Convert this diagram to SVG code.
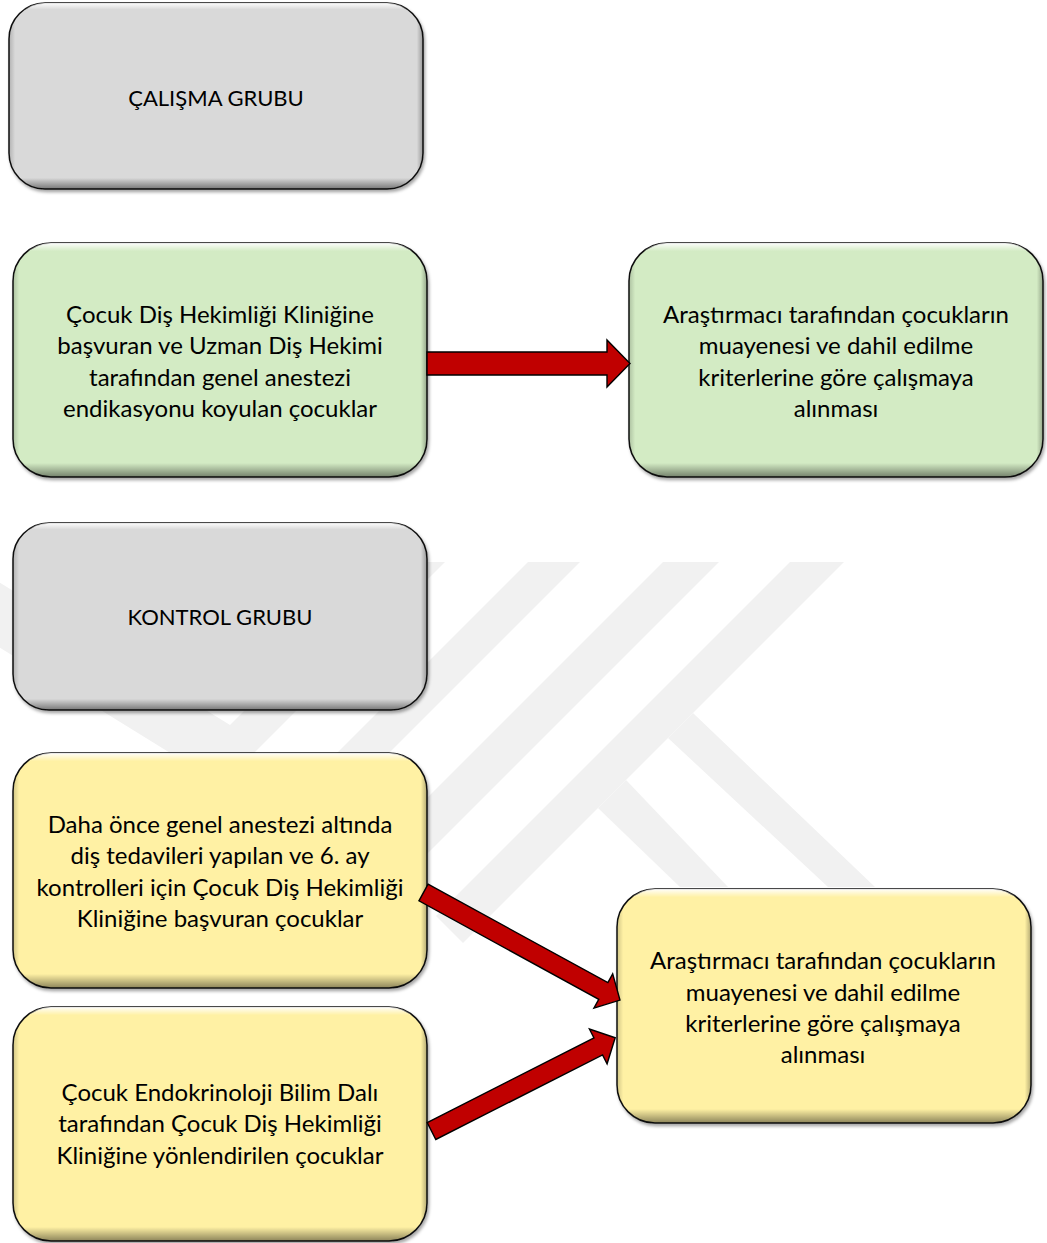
<svg xmlns="http://www.w3.org/2000/svg" width="1047" height="1243" viewBox="0 0 1047 1243">
  <defs>
    <filter id="shadow" x="-5%" y="-5%" width="110%" height="115%">
      <feDropShadow dx="1.5" dy="2.5" stdDeviation="1.8" flood-color="#000" flood-opacity="0.35"/>
    </filter>
    <linearGradient id="bevelV" x1="0" y1="0" x2="0" y2="1">
      <stop offset="0" stop-color="#fff" stop-opacity="0.95"/>
      <stop offset="0.035" stop-color="#fff" stop-opacity="0"/>
      <stop offset="0.94" stop-color="#000" stop-opacity="0"/>
      <stop offset="1" stop-color="#000" stop-opacity="0.45"/>
    </linearGradient>
    <linearGradient id="bevelH" x1="0" y1="0" x2="1" y2="0">
      <stop offset="0" stop-color="#000" stop-opacity="0.18"/>
      <stop offset="0.015" stop-color="#000" stop-opacity="0"/>
      <stop offset="0.985" stop-color="#000" stop-opacity="0"/>
      <stop offset="1" stop-color="#000" stop-opacity="0.3"/>
    </linearGradient>
  </defs>
  <style>
    .box { stroke: #111; stroke-width: 1.5; filter: url(#shadow); }
    .gray { fill: #d9d9d9; }
    .green { fill: #d3ebc4; }
    .yellow { fill: #fff1a4; }
    .bv { fill: url(#bevelV); stroke: none; }
    .bh { fill: url(#bevelH); stroke: none; }
    .label { font-family: Lato, "Noto Sans", "Liberation Sans", sans-serif; font-size: 24px; fill: #000; text-anchor: middle; }
    .title { font-size: 22px; }
    .arrow { fill: #c00000; stroke: #000; stroke-width: 1.4; stroke-linejoin: miter; }
    .wm { fill: #f1f1f1; }
  </style>

  <rect width="1047" height="1243" fill="#fff"/>

  <!-- faint background emblem -->
  <g id="emblem">
    <polygon class="wm" points="-100,521 230,725 393,562 445,562 222,785 -100,586"/>
    <polygon class="wm" points="528,562 580,562 242,900 190,900"/>
    <polygon class="wm" points="663,562 719,562 341,940 285,940"/>
    <polygon class="wm" points="790,562 844,562 463,943 436,916"/>
    <polygon class="wm" points="693,713 875,887 828,887 668,738"/>
    <polygon class="wm" points="626,780 728,887 680,887 598,808"/>
  </g>

  <g id="calisma-grubu">
    <rect class="box gray" x="9" y="3" width="414" height="186" rx="36"/>
    <rect class="bv" x="9" y="3" width="414" height="186" rx="36"/>
    <rect class="bh" x="9" y="3" width="414" height="186" rx="36"/>
    <text class="label title" x="216" y="106">ÇALIŞMA GRUBU</text>
  </g>

  <g id="calisma-kaynak">
    <rect class="box green" x="13" y="243" width="414" height="234" rx="38"/>
    <rect class="bv" x="13" y="243" width="414" height="234" rx="38"/>
    <rect class="bh" x="13" y="243" width="414" height="234" rx="38"/>
    <text class="label" x="220" y="323">Çocuk Diş Hekimliği Kliniğine</text>
    <text class="label" x="220" y="354">başvuran ve Uzman Diş Hekimi</text>
    <text class="label" x="220" y="386">tarafından genel anestezi</text>
    <text class="label" x="220" y="417">endikasyonu koyulan çocuklar</text>
  </g>

  <g id="calisma-secim">
    <rect class="box green" x="629" y="243" width="414" height="234" rx="38"/>
    <rect class="bv" x="629" y="243" width="414" height="234" rx="38"/>
    <rect class="bh" x="629" y="243" width="414" height="234" rx="38"/>
    <text class="label" x="836" y="323">Araştırmacı tarafından çocukların</text>
    <text class="label" x="836" y="354">muayenesi ve dahil edilme</text>
    <text class="label" x="836" y="386">kriterlerine göre çalışmaya</text>
    <text class="label" x="836" y="417">alınması</text>
  </g>

  <g id="kontrol-grubu">
    <rect class="box gray" x="13" y="523" width="414" height="187" rx="36"/>
    <rect class="bv" x="13" y="523" width="414" height="187" rx="36"/>
    <rect class="bh" x="13" y="523" width="414" height="187" rx="36"/>
    <text class="label title" x="220" y="625">KONTROL GRUBU</text>
  </g>

  <g id="kontrol-kaynak-1">
    <rect class="box yellow" x="13" y="753" width="414" height="235" rx="38"/>
    <rect class="bv" x="13" y="753" width="414" height="235" rx="38"/>
    <rect class="bh" x="13" y="753" width="414" height="235" rx="38"/>
    <text class="label" x="220" y="833">Daha önce genel anestezi altında</text>
    <text class="label" x="220" y="864">diş tedavileri yapılan ve 6. ay</text>
    <text class="label" x="220" y="896">kontrolleri için Çocuk Diş Hekimliği</text>
    <text class="label" x="220" y="927">Kliniğine başvuran çocuklar</text>
  </g>

  <g id="kontrol-kaynak-2">
    <rect class="box yellow" x="13" y="1007" width="414" height="234" rx="38"/>
    <rect class="bv" x="13" y="1007" width="414" height="234" rx="38"/>
    <rect class="bh" x="13" y="1007" width="414" height="234" rx="38"/>
    <text class="label" x="220" y="1101">Çocuk Endokrinoloji Bilim Dalı</text>
    <text class="label" x="220" y="1132">tarafından Çocuk Diş Hekimliği</text>
    <text class="label" x="220" y="1164">Kliniğine yönlendirilen çocuklar</text>
  </g>

  <g id="kontrol-secim">
    <rect class="box yellow" x="617" y="889" width="414" height="234" rx="38"/>
    <rect class="bv" x="617" y="889" width="414" height="234" rx="38"/>
    <rect class="bh" x="617" y="889" width="414" height="234" rx="38"/>
    <text class="label" x="823" y="969">Araştırmacı tarafından çocukların</text>
    <text class="label" x="823" y="1001">muayenesi ve dahil edilme</text>
    <text class="label" x="823" y="1032">kriterlerine göre çalışmaya</text>
    <text class="label" x="823" y="1063">alınması</text>
  </g>

  <!-- block arrows -->
  <g id="connectors">
    <polygon class="arrow" points="427,352 607,352 607,340 630,363.5 607,387 607,375 427,375"/>
    <polygon class="arrow" transform="translate(423.5 892.5) rotate(28.7)" points="0,-9.5 205,-9.5 205,-19.5 224,0 205,19.5 205,9.5 0,9.5"/>
    <polygon class="arrow" transform="translate(431.5 1131) rotate(-26.9)" points="0,-9.5 187,-9.5 187,-19.5 206,0 187,19.5 187,9.5 0,9.5"/>
  </g>
</svg>
